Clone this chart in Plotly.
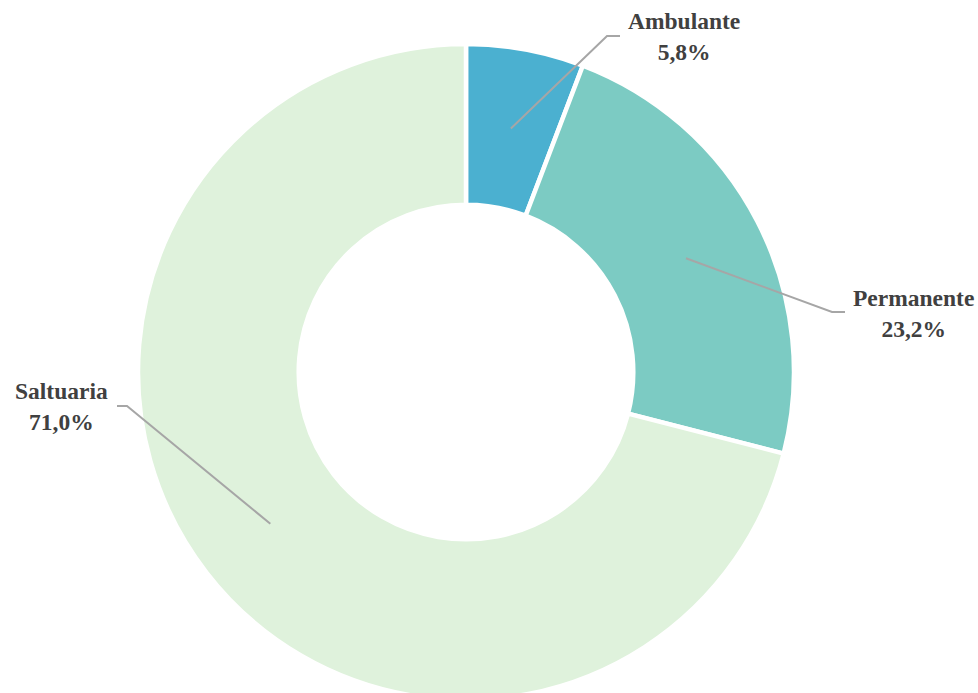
import math
import plotly.graph_objects as go

# ---- data ----
labels = ["Ambulante", "Permanente", "Saltuaria"]
values = [5.8, 23.2, 71.0]
value_text = ["5,8%", "23,2%", "71,0%"]
colors = ["#4bb0d0", "#7ccbc3", "#dff2dc"]

# ---- layout (pixels) ----
W, H = 978, 710
cx, cy, R = 466, 372, 328
hole = 0.51
# label placement: elbow point, end point, text center (pixels from top-left)
label_pos = {
    "Ambulante": ((607, 36), (620, 36), (684, 36)),
    "Permanente": ((832, 312), (845, 312), (913, 313)),
    "Saltuaria": ((127, 406), (117, 406), (61, 406)),
}

def px2paper(x, y):
    return x / W, 1 - y / H

fig = go.Figure(go.Pie(
    labels=labels, values=values, hole=hole, sort=False,
    direction="clockwise", rotation=0,
    marker=dict(colors=colors, line=dict(color="white", width=4.5)),
    textinfo="none", hoverinfo="label+percent",
    domain=dict(x=[(cx - R) / W, (cx + R) / W],
                y=[(H - cy - R) / H, (H - cy + R) / H]),
    showlegend=False,
))

total = sum(values)
cum = 0.0
shapes, annotations = [], []
rmid = R * (1 + hole) / 2
for lab, v, vt in zip(labels, values, value_text):
    theta = 2 * math.pi * (cum + v / 2) / total
    cum += v
    sx = cx + rmid * math.sin(theta)
    sy = cy - rmid * math.cos(theta)
    (ex, ey), (fx, fy), (tx, ty) = label_pos[lab]
    pts = [px2paper(sx, sy), px2paper(ex, ey), px2paper(fx, fy)]
    path = "M {} {} L {} {} L {} {}".format(*[c for p in pts for c in p])
    shapes.append(dict(type="path", xref="paper", yref="paper", path=path,
                       line=dict(color="#a6a6a6", width=2)))
    ax, ay = px2paper(tx, ty)
    annotations.append(dict(x=ax, y=ay, xref="paper", yref="paper",
                            xanchor="center", yanchor="middle", showarrow=False,
                            align="center",
                            text=f"<b>{lab}</b><br><b>{vt}</b>",
                            font=dict(family="Liberation Serif", size=23.5, color="#404040")))

fig.update_layout(
    width=W, height=H,
    margin=dict(l=0, r=0, t=0, b=0),
    paper_bgcolor="white", plot_bgcolor="white",
    shapes=shapes, annotations=annotations,
)

fig.write_html("out.html", config={"displayModeBar": False},
               post_script="document.body.style.margin='0';document.body.style.overflow='hidden';")
